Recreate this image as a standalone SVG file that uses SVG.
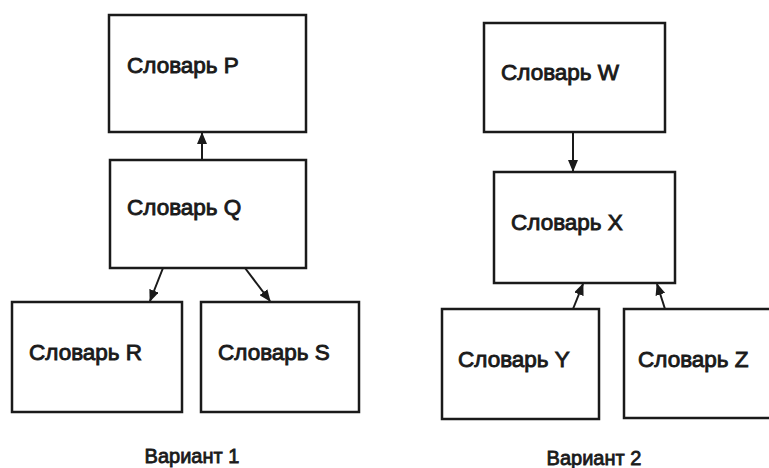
<svg xmlns="http://www.w3.org/2000/svg" width="769" height="468" viewBox="0 0 769 468">
<style>
.box{fill:#fff;stroke:#1a1a1a;stroke-width:2.5}
.lbl{font-family:"Liberation Sans",Arial,sans-serif;font-size:22.5px;fill:#1a1a1a;stroke:#1a1a1a;stroke-width:0.9}
.cap{font-family:"Liberation Sans",Arial,sans-serif;font-size:20px;fill:#1a1a1a;stroke:#1a1a1a;stroke-width:0.8;text-anchor:middle}
.edge{stroke:#1a1a1a;stroke-width:2;fill:none;marker-end:url(#ah)}
</style>
<defs>
<marker id="ah" markerUnits="userSpaceOnUse" markerWidth="12" markerHeight="10" refX="11" refY="5" orient="auto">
<path d="M0,0 L12,5 L0,10 Z" fill="#1a1a1a"/>
</marker>
</defs>
<rect width="769" height="468" fill="#fff"/>
<g id="connectors">
<line class="edge" x1="202" y1="160" x2="202" y2="133"/>
<line class="edge" x1="163" y1="268" x2="150" y2="301"/>
<line class="edge" x1="245" y1="268" x2="270" y2="301"/>
<line class="edge" x1="573" y1="132" x2="573" y2="171"/>
<line class="edge" x1="573" y1="309" x2="583" y2="284"/>
<line class="edge" x1="665" y1="309" x2="657" y2="284"/>
</g>
<g id="nodeP"><rect class="box" x="109" y="15" width="197" height="117"/><text class="lbl" x="127" y="73">Словарь P</text></g>
<g id="nodeQ"><rect class="box" x="110" y="160" width="196" height="108"/><text class="lbl" x="127" y="215">Словарь Q</text></g>
<g id="nodeR"><rect class="box" x="12" y="302" width="170" height="110"/><text class="lbl" x="29" y="360">Словарь R</text></g>
<g id="nodeS"><rect class="box" x="201" y="302" width="158" height="110"/><text class="lbl" x="218" y="360">Словарь S</text></g>
<g id="nodeW"><rect class="box" x="484" y="23" width="181" height="109"/><text class="lbl" x="501" y="80">Словарь W</text></g>
<g id="nodeX"><rect class="box" x="494" y="172" width="181" height="111"/><text class="lbl" x="511" y="230">Словарь X</text></g>
<g id="nodeY"><rect class="box" x="442" y="309" width="157" height="110"/><text class="lbl" x="458" y="367">Словарь Y</text></g>
<g id="nodeZ"><rect class="box" x="624" y="309" width="160" height="109"/><text class="lbl" x="638" y="367">Словарь Z</text></g>
<text class="cap" x="192" y="463">Вариант 1</text>
<text class="cap" x="594" y="465">Вариант 2</text>
</svg>
